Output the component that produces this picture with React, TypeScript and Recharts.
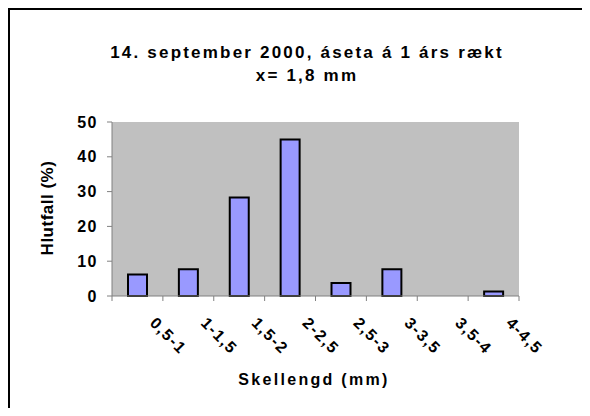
import { Bar, BarChart, Label, XAxis, YAxis } from "recharts"

const categories = ["0,5-1", "1-1,5", "1,5-2", "2-2,5", "2,5-3", "3-3,5", "3,5-4", "4-4,5"]
const shares = [6.2, 7.7, 28.3, 45.0, 3.7, 7.7, 0, 1.3]
const yTicks = [0, 10, 20, 30, 40, 50]
const xTicks = categories.map((_, i) => i).concat(categories.length)

const data = categories.map((name, i) => ({ name, pos: i + 0.5, share: shares[i] }))

const font = "'Liberation Sans', Arial, sans-serif"

function CategoryTick(props: any) {
  const { x, y, payload } = props
  const label = categories[payload.value]
  if (!label) return null
  const x0 = x + 37
  const y0 = y + 23
  return (
    <text
      x={x0}
      y={y0}
      transform={`rotate(45 ${x0} ${y0})`}
      textAnchor="start"
      fontFamily={font}
      fontWeight="bold"
      fontSize={16}
      letterSpacing={1.5}
      fill="#000"
    >
      {label}
    </text>
  )
}

export default function App() {
  return (
    <div
      style={{
        position: "relative",
        width: 582,
        height: 400,
        boxSizing: "border-box",
        borderTop: "2px solid #000",
        borderLeft: "2px solid #000",
        overflow: "hidden",
        background: "#fff",
      }}
    >
      <svg width={580} height={100} style={{ position: "absolute", left: 0, top: 0 }}>
        <text x={297} y={48} textAnchor="middle" fontFamily={font} fontWeight="bold" fontSize={17} letterSpacing={2.2}>
          14. september 2000, áseta á 1 árs rækt
        </text>
        <text x={297} y={71} textAnchor="middle" fontFamily={font} fontWeight="bold" fontSize={17} letterSpacing={2.2}>
          x= 1,8 mm
        </text>
      </svg>
      <div style={{ position: "absolute", left: 0, top: 0 }}>
        <BarChart width={580} height={406} data={data} margin={{ top: 112, right: 71, left: 0, bottom: 0 }}>
          <rect x={102} y={112} width={407} height={174} fill="#C0C0C0" />
          <XAxis
            dataKey="pos"
            type="number"
            domain={[0, 8]}
            ticks={xTicks}
            interval={0}
            height={120}
            tickSize={5}
            tickMargin={0}
            stroke="#808080"
            tick={<CategoryTick />}
          >
            <Label
              content={() => (
                <text x={304} y={375} textAnchor="middle" fontFamily={font} fontWeight="bold" fontSize={16} letterSpacing={2.3} fill="#000">
                  Skellengd (mm)
                </text>
              )}
            />
          </XAxis>
          <YAxis
            domain={[0, 50]}
            ticks={yTicks}
            interval={0}
            width={102}
            tickSize={5}
            tickMargin={9}
            stroke="#808080"
            tick={{ fill: "#000", fontFamily: font, fontWeight: "bold", fontSize: 16, letterSpacing: 1.5 }}
          >
            <Label
              content={() => (
                <text
                  x={43}
                  y={198}
                  transform="rotate(-90 43 198)"
                  textAnchor="middle"
                  fontFamily={font}
                  fontWeight="bold"
                  fontSize={17}
                  letterSpacing={0.5}
                  fill="#000"
                >
                  Hlutfall (%)
                </text>
              )}
            />
          </YAxis>
          <Bar dataKey="share" fill="#9999FF" stroke="#000" strokeWidth={2} barSize={19} isAnimationActive={false} />
        </BarChart>
      </div>
    </div>
  )
}
